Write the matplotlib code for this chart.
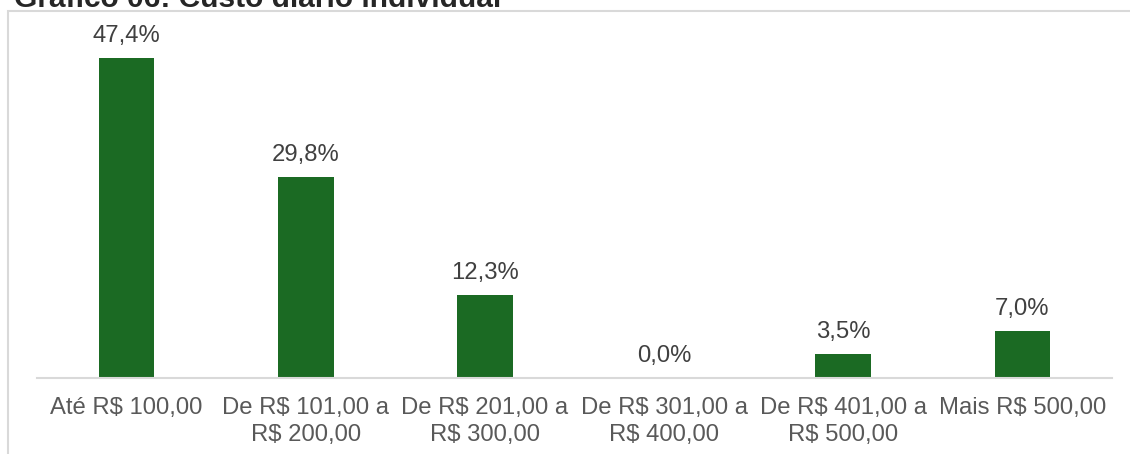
import matplotlib
matplotlib.use('Agg')
from matplotlib import pyplot as plt
from matplotlib.patches import Rectangle

categories = ['Até R$ 100,00', 'De R$ 101,00 a\nR$ 200,00', 'De R$ 201,00 a\nR$ 300,00',
              'De R$ 301,00 a\nR$ 400,00', 'De R$ 401,00 a\nR$ 500,00', 'Mais R$ 500,00']
values = [47.4, 29.8, 12.3, 0.0, 3.5, 7.0]
title = 'Gráfico 06: Custo diário individual'

W, H = 1130, 454
plt.rcParams['font.family'] = ['Liberation Sans', 'DejaVu Sans']

fig = plt.figure(figsize=(W / 100, H / 100), dpi=100)

# chart frame (cut off at right and bottom, as in the source)
fig.patches.append(Rectangle((8 / W, -0.1), 1.2, (H - 11) / H + 0.1, transform=fig.transFigure,
                             fill=False, edgecolor='#d9d9d9', linewidth=1.5))
fig.text(14 / W, (H - 7) / H, title, fontsize=21.5, fontweight='bold', color='#262626',
         va='baseline', ha='left')

ax = fig.add_axes([37 / W, 76 / H, (1112 - 37) / W, 338 / H])
x = range(len(categories))
ax.bar(x, values, width=0.31, color='#1b6a23')
ax.set_xlim(-0.5, len(categories) - 0.5)
ax.set_ylim(0, 50)

for xi, v in zip(x, values):
    ax.annotate(f'{v:.1f}%'.replace('.', ','), (xi, v), xytext=(0, 11.5), textcoords='offset points',
                ha='center', va='baseline', fontsize=17.2, color='#404040')

ax.set_xticks(list(x))
ax.set_xticklabels(categories, fontsize=17.2, color='#595959', linespacing=1.28)
ax.tick_params(axis='x', length=0, pad=14)
ax.set_yticks([])
for s in ['top', 'left', 'right']:
    ax.spines[s].set_visible(False)
ax.spines['bottom'].set_color('#d9d9d9')
ax.spines['bottom'].set_linewidth(1.5)

fig.savefig('out.png', dpi=100)
